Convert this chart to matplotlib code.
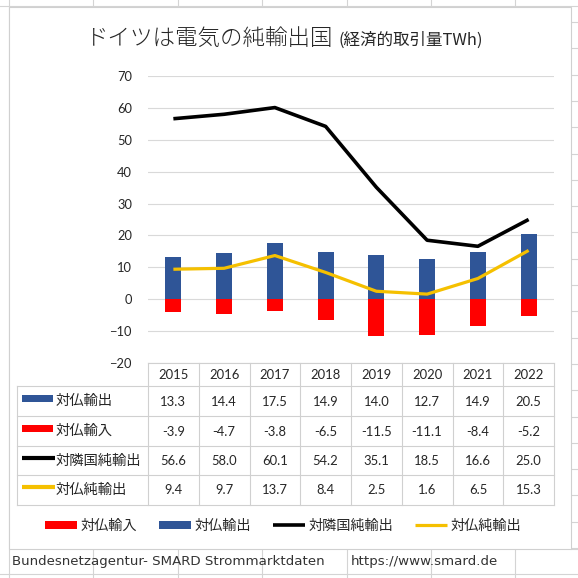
import matplotlib
matplotlib.use('Agg')
import matplotlib.pyplot as plt
from matplotlib.patches import Rectangle

# ---- data ----
years = ['2015', '2016', '2017', '2018', '2019', '2020', '2021', '2022']
fr_export = [13.3, 14.4, 17.5, 14.9, 14.0, 12.7, 14.9, 20.5]
fr_import = [-3.9, -4.7, -3.8, -6.5, -11.5, -11.1, -8.4, -5.2]
neighbor_net = [56.6, 58.0, 60.1, 54.2, 35.1, 18.5, 16.6, 25.0]
fr_net = [9.4, 9.7, 13.7, 8.4, 2.5, 1.6, 6.5, 15.3]
yticks = [-20, -10, 0, 10, 20, 30, 40, 50, 60, 70]
row_labels = ['対仏輸出', '対仏輸入', '対隣国純輸出', '対仏純輸出']
title_main = 'ドイツは電気の純輸出国'
title_sub = '(経済的取引量TWh)'
footer_left = 'Bundesnetzagentur- SMARD Strommarktdaten'
footer_right = 'https://www.smard.de'

C_BLUE = '#2F5597'
C_RED = '#FF0000'
C_BLACK = '#000000'
C_YEL = '#F5C000'
C_GRID = '#D9D9D9'
C_TXT = '#262626'

plt.rcParams['font.family'] = ['Lato', 'Noto Sans CJK JP', 'DejaVu Sans']

W = H = 578
fig = plt.figure(figsize=(5.78, 5.78), dpi=100)
fig.patch.set_facecolor('white')

def fx(px):
    return px / W

def fy(py):
    return 1 - py / H

# ---- spreadsheet background (pixel coordinates) ----
bg = fig.add_axes([0, 0, 1, 1], zorder=0)
bg.set_xlim(0, W)
bg.set_ylim(H, 0)
bg.axis('off')
for xv in [9, 93, 178, 262, 347, 431, 515]:
    bg.plot([xv, xv], [0, H], color='#D4D4D4', lw=0.8)
for yv in [6, 574]:
    bg.plot([0, W], [yv, yv], color='#D4D4D4', lw=0.8)
yv = 22.0
while yv < 549:
    bg.plot([571, W], [yv, yv], color='#D4D4D4', lw=0.8)
    yv += 26.3
bg.plot([571, W], [549, 549], color='#D4D4D4', lw=0.8)
bg.add_patch(Rectangle((9, 7), 562, 542, facecolor='white',
                       edgecolor='#D0D0D0', lw=0.8, zorder=3))
bg.text(12, 561, footer_left, family='DejaVu Sans', fontsize=9.6,
        color='#333333', va='center', ha='left', zorder=4)
bg.text(351, 561, footer_right, family='DejaVu Sans', fontsize=9.6,
        color='#333333', va='center', ha='left', zorder=4)

# ---- title ----
fig.text(fx(333), fy(45), title_main, ha='right', va='baseline',
         fontsize=16.2, color=C_TXT, family=['Noto Sans CJK JP'],
         fontweight='light', zorder=5)
fig.text(fx(338), fy(45), title_sub, ha='left', va='baseline',
         fontsize=11.9, color=C_TXT, family=['Noto Sans CJK JP'], zorder=5)

# ---- main plot ----
ax = fig.add_axes([fx(148), fy(363), (554 - 148) / W, (363 - 76) / H], zorder=2)
ax.patch.set_alpha(0)
x = list(range(len(years)))
b_exp = ax.bar(x, fr_export, width=0.32, color=C_BLUE, zorder=2)
b_imp = ax.bar(x, fr_import, width=0.32, color=C_RED, zorder=2)
l_nb, = ax.plot(x, neighbor_net, color=C_BLACK, lw=2.6, zorder=3,
                solid_joinstyle='round', solid_capstyle='butt')
l_fr, = ax.plot(x, fr_net, color=C_YEL, lw=2.3, zorder=4,
                solid_joinstyle='round', solid_capstyle='butt')
ax.set_xlim(-0.5, len(years) - 0.5)
ax.set_ylim(-20, 70)
ax.set_yticks(yticks)
ax.set_xticks([])
for s in ax.spines.values():
    s.set_visible(False)
ax.yaxis.grid(True, color=C_GRID, lw=0.8, zorder=0)
ax.set_axisbelow(True)
ax.tick_params(axis='y', length=0, pad=11.5, labelsize=9.3, labelcolor=C_TXT)

# ---- data table ----
unit = (554 - 148) / len(years)
left_w = (148 - 17) / unit
tab = fig.add_axes([fx(17), fy(505), (554 - 17) / W, (505 - 363) / H], zorder=2)
tab.patch.set_alpha(0)
tab.axis('off')
x0 = -0.5 - left_w
x1 = len(years) - 0.5
tab.set_xlim(x0, x1)
rows_y = [363, 386, 416, 446, 475, 505]
tab.set_ylim(505, 363)
LC = '#D0D0D0'
tab.plot([-0.5, x1], [rows_y[0], rows_y[0]], color=LC, lw=0.8, clip_on=False)
for r in rows_y[1:]:
    tab.plot([x0, x1], [r, r], color=LC, lw=0.8, clip_on=False)
tab.plot([x0, x0], [rows_y[1], rows_y[-1]], color=LC, lw=0.8, clip_on=False)
for k in range(len(years) + 1):
    xv = -0.5 + k
    tab.plot([xv, xv], [rows_y[0], rows_y[-1]], color=LC, lw=0.8, clip_on=False)

hy = (rows_y[0] + rows_y[1]) / 2
for i, yr in enumerate(years):
    tab.text(i, hy + 0.5, yr, ha='center', va='center', fontsize=9.4,
             color=C_TXT, family=['Lato'])

series = [fr_export, fr_import, neighbor_net, fr_net]
for r, vals in enumerate(series):
    cy = (rows_y[r + 1] + rows_y[r + 2]) / 2
    for i, v in enumerate(vals):
        tab.text(i, cy + 0.5, f'{v:.1f}', ha='center', va='center',
                 fontsize=9.4, color=C_TXT, family=['Lato'])

def px2u(px):
    return x0 + (px - 17) / unit

keys = [('patch', C_BLUE), ('patch', C_RED), ('line', C_BLACK), ('line', C_YEL)]
for r, (kind, col) in enumerate(keys):
    cy = (rows_y[r + 1] + rows_y[r + 2]) / 2
    if kind == 'patch':
        tab.add_patch(Rectangle((px2u(22), cy - 6.5), px2u(53) - px2u(22), 7,
                                facecolor=col, edgecolor='none'))
    else:
        tab.plot([px2u(22), px2u(55)], [cy - 3, cy - 3], color=col, lw=3.0,
                 solid_capstyle='butt')
    tab.text(px2u(56), cy, row_labels[r], ha='left', va='center',
             fontsize=10.3, color=C_TXT, family=['Noto Sans CJK JP'])

# ---- legend ----
leg = fig.legend([b_imp, b_exp, l_nb, l_fr],
                 [row_labels[1], row_labels[0], row_labels[2], row_labels[3]],
                 loc='center', bbox_to_anchor=(fx(283), fy(526)), ncol=4,
                 frameon=False, handlelength=2.25, handleheight=0.55,
                 handletextpad=0.25, columnspacing=1.55,
                 prop={'family': ['Noto Sans CJK JP'], 'size': 10.2})
for t in leg.get_texts():
    t.set_color(C_TXT)
leg.set_zorder(6)

fig.savefig('out.png', dpi=100, facecolor='white')
